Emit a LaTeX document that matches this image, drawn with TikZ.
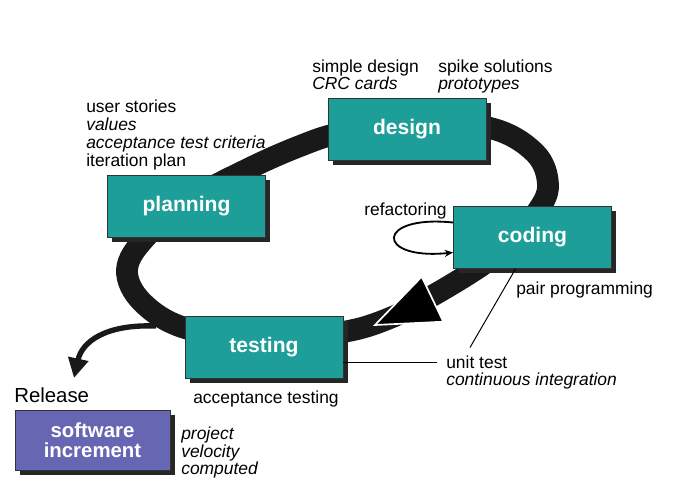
\documentclass[tikz,border=0pt]{standalone}
\usepackage{fontspec}
\setmainfont{Liberation Sans}
\usetikzlibrary{arrows.meta}
\usetikzlibrary{calc}
\usetikzlibrary{shadows}
\usetikzlibrary{positioning}

\definecolor{phaseteal}{RGB}{29,158,153}
\definecolor{incpurple}{RGB}{102,102,178}

\tikzset{
  phase/.style={draw=black!80, line width=0.6pt, fill=phaseteal, text=white,
    font=\fontsize{15}{16}\selectfont\bfseries, minimum width=3.95cm, minimum height=1.55cm,
    align=center, drop shadow={shadow xshift=3.5pt, shadow yshift=-3.5pt, opacity=1, fill=black!85}},
  note/.style={anchor=north west, inner sep=0pt, align=left, font=\fontsize{12.4}{12.4}\selectfont},
  ring/.style={line width=15.5pt, black!90},
  leader/.style={line width=0.7pt},
}

\begin{document}
\begin{tikzpicture}[x=0.025cm, y=-0.025cm]
    \path[use as bounding box] (0,0) rectangle (675,479);

    % the cycle
    \draw[ring] plot[smooth cycle, tension=0.6] coordinates {(407,122) (490,128) (535,153) (548,185) (537,212)
        (508,245) (478,268) (432,296) (390,318) (343,332) (264,340) (185,328) (142,302) (127,270)
        (145,238) (190,200) (250,168) (300,146) (340,133)};
    \filldraw[black, draw=white, line width=1.2pt, line join=miter] (421.7,276.7) -- (443.3,321.7) -- (375,325) -- cycle;

    \coordinate (relstart) at (156,326);
    \coordinate (relend) at (74,378);
    \draw[line width=3.8pt, black!90, -{Triangle[length=14pt, width=14pt]}] (relstart) .. controls (105,324) and (82,342) .. (relend);

    \node[phase] (design) at (407,129) {design};
    \node[phase] (planning) at (186.5,206) {planning};
    \node[phase] (coding) at (532.5,237.5) {coding};
    \node[phase] (testing) at (264,347) {testing};
    \node[phase, fill=incpurple, minimum width=3.875cm, minimum height=1.5cm,
        font=\fontsize{14.5}{14.2}\selectfont\bfseries] (increment) at (92.5,440) {software\\increment};

    \node[note] (simple) at (312,59.5) {simple design\\\textit{CRC cards}};
    \node[note] (spike) at (438,59.5) {spike solutions\\\textit{prototypes}};
    \node[note, font=\fontsize{12.4}{12.8}\selectfont] (stories) at (86,99.5) {user stories\\\textit{values}\\\textit{acceptance test criteria}\\iteration plan};
    \node[note] (refac) at (364,202.5) {refactoring};
    \node[note] (pair) at (516,281.5) {pair programming};
    \node[note] (unit) at (446,355.5) {unit test\\\textit{continuous integration}};
    \node[note] (acc) at (193,391) {acceptance testing};
    \node[note, font=\fontsize{14.5}{15}\selectfont] (release) at (14,387) {Release};
    \node[note] (velocity) at (181,427) {\textit{project}\\\textit{velocity}\\\textit{computed}};

    \draw[line width=1.3pt, -{Stealth[length=6pt, width=5pt]}] ($(coding.west)+(0,-15)$)
        .. controls +(-78,-8) and +(-78,8) .. ($(coding.west)+(0,15)$);
    \draw[leader] ($(coding.south)+(-17,0)$) -- ($(unit.north west)+(24,-8)$);
    \draw[leader] ($(testing.east)+(0,15.5)$) -- ++(94,0);
\end{tikzpicture}
\end{document}
